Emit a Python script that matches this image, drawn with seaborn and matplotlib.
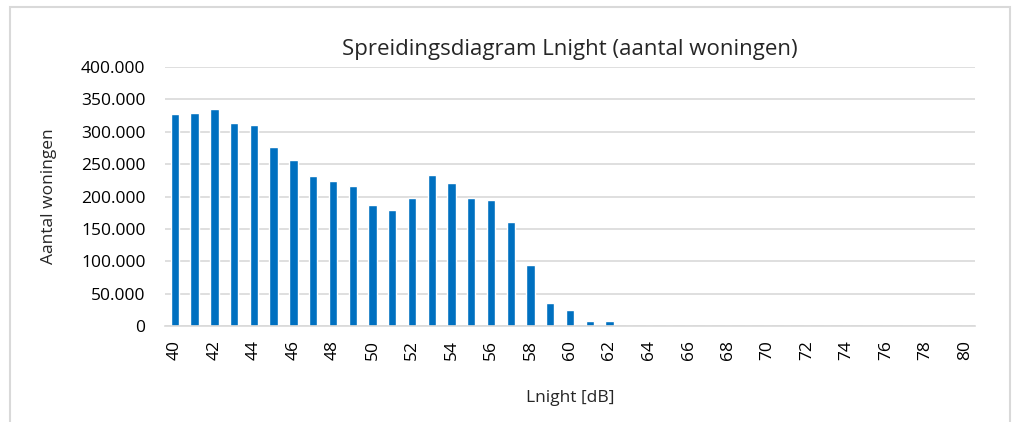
import matplotlib
matplotlib.use("Agg")
from matplotlib import pyplot as plt
from matplotlib.patches import Rectangle
from matplotlib.ticker import FuncFormatter
import seaborn as sns
import pandas as pd

# Lnight in dB, one bar per integer dB
lnight = list(range(40, 81))
woningen = [327000, 329000, 335500, 314000, 311000, 277000, 257000, 232000, 224000, 216000,
            187500, 179000, 198000, 233500, 220500, 198000, 194000, 160000, 95000, 35000,
            25000, 8000, 8000] + [0] * 18

df = pd.DataFrame({"lnight": lnight, "woningen": woningen})

sns.set_style("white")
plt.rcParams['font.family'] = ['Open Sans', 'DejaVu Sans']

fig = plt.figure(figsize=(10.14, 4.22), dpi=100)
ax = fig.add_axes([0.1627, 0.2275, 0.7988, 0.6135])

sns.barplot(data=df, x="lnight", y="woningen", color="#0070C0", saturation=1,
            width=0.42, ax=ax)

ax.set_xlim(-0.5, len(lnight) - 0.5)
ax.set_ylim(0, 400000)
ax.set_yticks(range(0, 400001, 50000))
ax.yaxis.set_major_formatter(FuncFormatter(lambda v, p: f"{int(v):,}".replace(",", ".")))
ax.set_xticks(range(0, len(lnight), 2))
ax.set_xticklabels([str(v) for v in lnight[::2]], rotation=90)
ax.tick_params(axis="both", labelsize=12.5, length=0, colors="#000000")
ax.tick_params(axis="x", pad=10)
ax.tick_params(axis="y", pad=14)
ax.grid(axis="y", color="#d9d9d9", linewidth=1.2)
ax.set_axisbelow(True)
for s in ["top", "right", "left"]:
    ax.spines[s].set_visible(False)
ax.spines["bottom"].set_color("#d9d9d9")
ax.spines["bottom"].set_linewidth(1.2)

ax.set_title("Spreidingsdiagram Lnight (aantal woningen)", fontsize=16, pad=9)
ax.set_xlabel("Lnight [dB]", fontsize=12.5, labelpad=22)
ax.set_ylabel("Aantal woningen", fontsize=12.5, labelpad=17)

# light grey frame around the chart area
fig.patches.append(Rectangle((10 / 1014, -0.05), 1000 / 1014, 1.05 - 7 / 422,
                             transform=fig.transFigure, fill=False,
                             edgecolor="#d9d9d9", linewidth=1.5))

fig.savefig("out.png", dpi=100)
